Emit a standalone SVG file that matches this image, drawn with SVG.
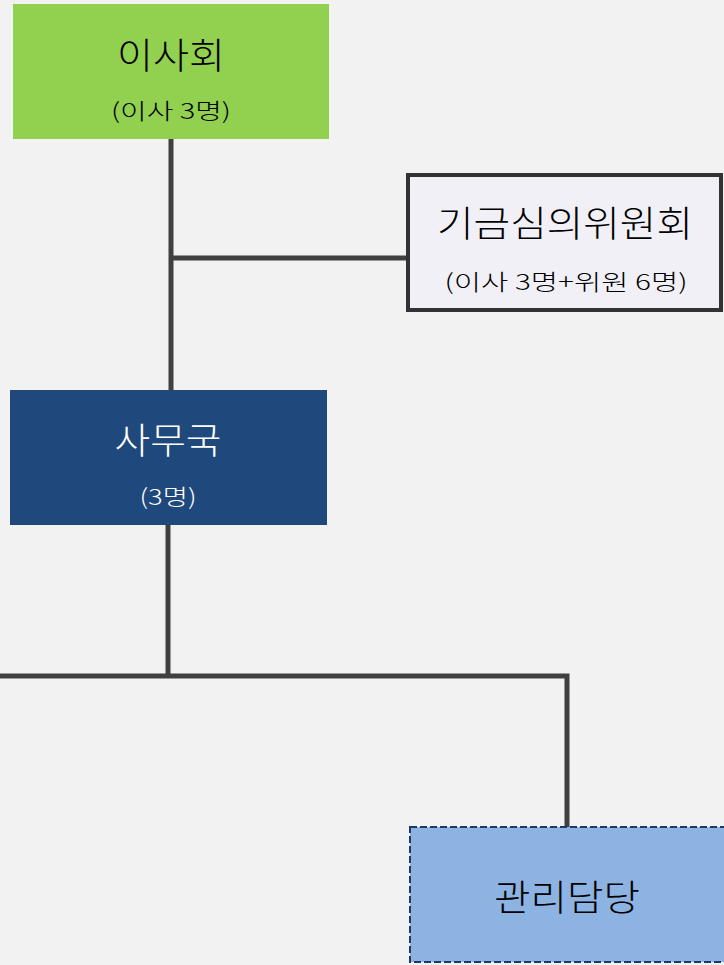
<svg xmlns="http://www.w3.org/2000/svg" width="724" height="965" viewBox="0 0 724 965">
<style>
.t{font-family:"Malgun Gothic","Noto Sans CJK KR",sans-serif;text-anchor:middle;font-weight:300}
.big{font-size:36px}
.small{font-size:22px}
.conn{stroke:#404040;stroke-width:5;fill:none}
</style>
<rect width="724" height="965" fill="#f2f2f2"/>
<g id="connectors">
<path class="conn" d="M171,139 V390"/>
<path class="conn" d="M171,258 H407"/>
<path class="conn" d="M168,525 V676"/>
<path class="conn" d="M0,676 H567 V827"/>
</g>
<g id="board">
<rect x="13" y="4" width="316" height="135" fill="#92d050"/>
<text class="t big" x="171" y="69" fill="#000" textLength="108" lengthAdjust="spacingAndGlyphs">이사회</text>
<text class="t small" x="171" y="119" fill="#000" textLength="120" lengthAdjust="spacingAndGlyphs">(이사 3명)</text>
</g>
<g id="fund-committee">
<rect x="408" y="175" width="313" height="135" fill="#f2f0f7" stroke="#333" stroke-width="4"/>
<text class="t big" x="565" y="237" fill="#000" textLength="256" lengthAdjust="spacingAndGlyphs">기금심의위원회</text>
<text class="t small" x="566" y="290" fill="#000" textLength="243" lengthAdjust="spacingAndGlyphs">(이사 3명+위원 6명)</text>
</g>
<g id="secretariat">
<rect x="10" y="390" width="317" height="135" fill="#1f497d"/>
<text class="t big" x="168" y="454" fill="#fff" textLength="107" lengthAdjust="spacingAndGlyphs">사무국</text>
<text class="t small" x="168" y="505" fill="#fff" textLength="57" lengthAdjust="spacingAndGlyphs">(3명)</text>
</g>
<g id="management">
<rect x="410" y="827" width="318" height="135" fill="#8db3e2" stroke="#1f3864" stroke-width="2" stroke-dasharray="7,3"/>
<text class="t big" x="567" y="911" fill="#000" textLength="146" lengthAdjust="spacingAndGlyphs">관리담당</text>
</g>
</svg>
